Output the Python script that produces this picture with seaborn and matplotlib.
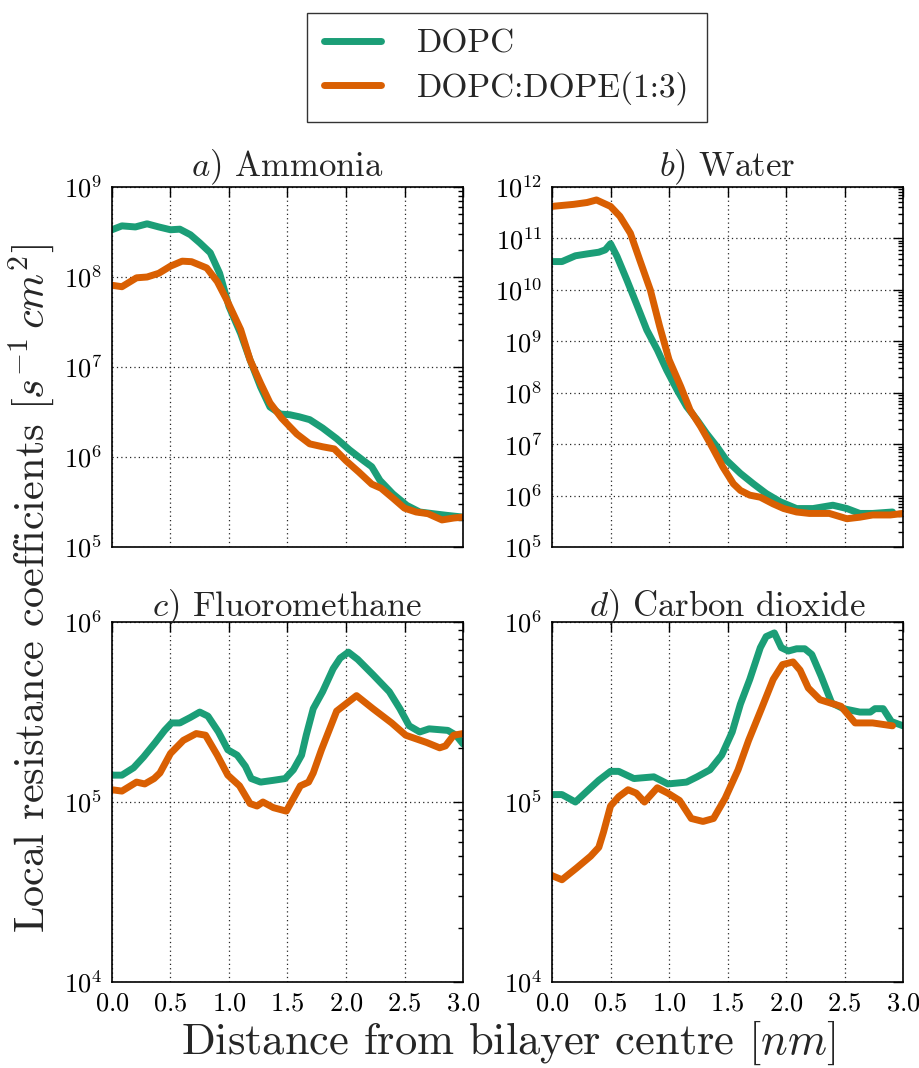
import numpy as np
import pandas as pd
import matplotlib
matplotlib.use("Agg")
import matplotlib.pyplot as plt
from matplotlib.ticker import LogLocator, NullFormatter
from matplotlib.lines import Line2D
import seaborn as sns

# ---------------- data: local resistance coefficients (s^-1 cm^2) ----------------
# a) Ammonia
ammonia_x_dopc = [0.0, 0.085, 0.2, 0.3, 0.4, 0.5, 0.58, 0.67, 0.75, 0.84, 0.92, 1.0, 1.1, 1.18,
                  1.27, 1.35, 1.44, 1.52, 1.6, 1.69, 1.8, 1.92, 2.03, 2.15, 2.22, 2.29, 2.4,
                  2.52, 2.63, 2.74, 2.86, 3.0]
ammonia_dopc = [3.35e8, 3.7e8, 3.6e8, 3.9e8, 3.6e8, 3.35e8, 3.4e8, 2.95e8, 2.4e8, 1.86e8, 1.1e8,
                4.7e7, 2.35e7, 1.2e7, 6.0e6, 3.6e6, 3.0e6, 2.95e6, 2.8e6, 2.6e6, 2.1e6, 1.6e6,
                1.2e6, 9.1e5, 7.8e5, 5.5e5, 3.9e5, 2.9e5, 2.45e5, 2.35e5, 2.25e5, 2.15e5]
ammonia_x_mix = [0.0, 0.085, 0.21, 0.3, 0.4, 0.5, 0.6, 0.68, 0.81, 0.9, 0.98, 1.1, 1.18, 1.27,
                 1.35, 1.45, 1.58, 1.69, 1.8, 1.9, 2.0, 2.11, 2.22, 2.3, 2.4, 2.5, 2.6, 2.7,
                 2.82, 2.92, 3.0]
ammonia_mix = [8.1e7, 7.8e7, 9.8e7, 1.0e8, 1.1e8, 1.32e8, 1.5e8, 1.48e8, 1.26e8, 8.9e7, 5.6e7,
               2.6e7, 1.2e7, 6.6e6, 4.0e6, 2.7e6, 1.8e6, 1.4e6, 1.3e6, 1.23e6, 9.1e5, 6.8e5,
               5.0e5, 4.5e5, 3.5e5, 2.7e5, 2.45e5, 2.35e5, 2.0e5, 2.1e5, 2.15e5]

# b) Water
water_x_dopc = [0.0, 0.085, 0.2, 0.3, 0.4, 0.455, 0.5, 0.555, 0.64, 0.73, 0.81, 0.9, 0.98, 1.07,
                1.15, 1.24, 1.32, 1.41, 1.49, 1.61, 1.72, 1.83, 1.95, 2.09, 2.23, 2.4, 2.52,
                2.63, 2.74, 2.91]
water_dopc = [3.55e10, 3.55e10, 4.6e10, 5.0e10, 5.4e10, 6.0e10, 7.9e10, 4.5e10, 1.55e10, 4.8e9,
              1.66e9, 6.8e8, 2.75e8, 1.12e8, 5.4e7, 2.95e7, 1.62e7, 8.9e6, 4.9e6, 2.7e6, 1.7e6,
              1.1e6, 7.6e5, 5.6e5, 5.6e5, 6.5e5, 5.6e5, 4.5e5, 4.5e5, 4.8e5]
water_x_mix = [0.0, 0.185, 0.3, 0.38, 0.5, 0.58, 0.67, 0.75, 0.84, 0.92, 1.0, 1.1, 1.18, 1.27,
               1.35, 1.46, 1.55, 1.61, 1.69, 1.78, 1.89, 1.98, 2.09, 2.2, 2.37, 2.52, 2.63,
               2.74, 2.89, 3.0]
water_mix = [4.2e11, 4.6e11, 5.0e11, 5.6e11, 4.2e11, 2.7e11, 1.26e11, 3.8e10, 1.0e10, 1.95e9,
             4.4e8, 1.32e8, 4.6e7, 2.2e7, 1.05e7, 3.6e6, 1.7e6, 1.26e6, 1.02e6, 9.3e5, 6.9e5,
             5.6e5, 4.8e5, 4.5e5, 4.5e5, 3.55e5, 3.8e5, 4.2e5, 4.2e5, 4.5e5]

# c) Fluoromethane
fluoro_x_dopc = [0.0, 0.085, 0.185, 0.27, 0.37, 0.45, 0.51, 0.58, 0.67, 0.75, 0.82, 0.91, 0.99,
                 1.07, 1.14, 1.19, 1.27, 1.38, 1.48, 1.55, 1.62, 1.66, 1.72, 1.8, 1.89, 1.95,
                 2.02, 2.1, 2.23, 2.37, 2.46, 2.54, 2.63, 2.71, 2.87, 2.94, 3.0]
fluoro_dopc = [1.41e5, 1.41e5, 1.55e5, 1.78e5, 2.14e5, 2.5e5, 2.75e5, 2.75e5, 2.95e5, 3.16e5,
               3.0e5, 2.45e5, 1.95e5, 1.82e5, 1.58e5, 1.35e5, 1.29e5, 1.32e5, 1.35e5, 1.51e5,
               1.82e5, 2.35e5, 3.3e5, 4.1e5, 5.5e5, 6.3e5, 6.8e5, 6.2e5, 5.1e5, 4.1e5, 3.3e5,
               2.65e5, 2.45e5, 2.55e5, 2.5e5, 2.35e5, 2.1e5]
fluoro_x_mix = [0.0, 0.085, 0.21, 0.28, 0.36, 0.41, 0.5, 0.61, 0.72, 0.8, 0.9, 0.99, 1.09, 1.18,
                1.24, 1.29, 1.38, 1.49, 1.61, 1.68, 1.72, 1.79, 1.92, 2.09, 2.23, 2.39, 2.51,
                2.69, 2.8, 2.85, 2.92, 3.0]
fluoro_mix = [1.17e5, 1.15e5, 1.29e5, 1.26e5, 1.35e5, 1.45e5, 1.86e5, 2.2e5, 2.4e5, 2.35e5,
              1.82e5, 1.41e5, 1.23e5, 9.8e4, 9.5e4, 1.0e5, 9.3e4, 8.9e4, 1.23e5, 1.29e5, 1.45e5,
              1.95e5, 3.2e5, 3.9e5, 3.3e5, 2.75e5, 2.35e5, 2.14e5, 2.0e5, 2.05e5, 2.35e5, 2.4e5]

# d) Carbon dioxide
co2_x_dopc = [0.0, 0.085, 0.2, 0.3, 0.4, 0.5, 0.57, 0.7, 0.87, 0.99, 1.15, 1.24, 1.35, 1.45,
              1.54, 1.61, 1.69, 1.78, 1.83, 1.9, 1.96, 2.02, 2.09, 2.16, 2.22, 2.3, 2.39, 2.49,
              2.63, 2.72, 2.76, 2.83, 2.9, 3.0]
co2_dopc = [1.1e5, 1.1e5, 1.0e5, 1.15e5, 1.32e5, 1.48e5, 1.48e5, 1.35e5, 1.38e5, 1.26e5, 1.29e5,
            1.38e5, 1.51e5, 1.82e5, 2.45e5, 3.5e5, 4.8e5, 7.2e5, 8.3e5, 8.7e5, 7.2e5, 6.9e5,
            7.1e5, 7.1e5, 6.6e5, 5.0e5, 3.55e5, 3.3e5, 3.16e5, 3.16e5, 3.3e5, 3.3e5, 2.8e5, 2.65e5]
co2_x_mix = [0.0, 0.085, 0.21, 0.33, 0.4, 0.44, 0.5, 0.57, 0.65, 0.72, 0.79, 0.9, 0.99, 1.09,
             1.19, 1.29, 1.38, 1.48, 1.59, 1.68, 1.79, 1.89, 1.97, 2.06, 2.12, 2.19, 2.29, 2.47,
             2.59, 2.74, 2.91]
co2_mix = [3.9e4, 3.7e4, 4.3e4, 5.0e4, 5.6e4, 6.8e4, 9.5e4, 1.07e5, 1.17e5, 1.12e5, 1.0e5, 1.2e5,
           1.12e5, 1.02e5, 8.1e4, 7.8e4, 8.1e4, 1.05e5, 1.51e5, 2.2e5, 3.3e5, 4.8e5, 5.8e5, 6.0e5,
           5.4e5, 4.3e5, 3.7e5, 3.4e5, 2.75e5, 2.75e5, 2.65e5]

membranes = ["DOPC", "DOPC:DOPE(1:3)"]
panel_titles = [r"$a)$ Ammonia", r"$b)$ Water", r"$c)$ Fluoromethane", r"$d)$ Carbon dioxide"]
panel_ylims = [(1e5, 1e9), (1e5, 1e12), (1e4, 1e6), (1e4, 1e6)]
x_ticks = [0.0, 0.5, 1.0, 1.5, 2.0, 2.5, 3.0]

panels = [
    (ammonia_x_dopc, ammonia_dopc, ammonia_x_mix, ammonia_mix),
    (water_x_dopc, water_dopc, water_x_mix, water_mix),
    (fluoro_x_dopc, fluoro_dopc, fluoro_x_mix, fluoro_mix),
    (co2_x_dopc, co2_dopc, co2_x_mix, co2_mix),
]

# ---------------- style ----------------
sns.set_style("white")
plt.rcParams["font.family"] = ["cmr10", "DejaVu Serif"]
plt.rcParams["mathtext.fontset"] = "cm"
plt.rcParams["axes.formatter.use_mathtext"] = True
plt.rcParams["axes.unicode_minus"] = False

dark2 = sns.color_palette("Dark2")
palette = {membranes[0]: dark2[0], membranes[1]: dark2[1]}

fig = plt.figure(figsize=(9.2, 10.68), dpi=100)
left_cols = [0.1217, 0.600]
width = 0.3816
bottoms = [0.4878, 0.0805]
height = 0.3371

axes = []
for i, (xd, yd, xm, ym) in enumerate(panels):
    r, c = divmod(i, 2)
    ax = fig.add_axes([left_cols[c], bottoms[r], width, height])
    axes.append(ax)
    df = pd.concat([
        pd.DataFrame({"x": xd, "R": yd, "membrane": membranes[0]}),
        pd.DataFrame({"x": xm, "R": ym, "membrane": membranes[1]}),
    ], ignore_index=True)
    sns.lineplot(data=df, x="x", y="R", hue="membrane", palette=palette,
                 linewidth=5, ax=ax, legend=False, estimator=None, sort=False)
    ax.set_yscale("log")
    ax.set_xlim(0, 3)
    ax.set_ylim(*panel_ylims[i])
    ax.set_xticks(x_ticks)
    ax.yaxis.set_major_locator(LogLocator(base=10, numticks=30))
    ax.yaxis.set_minor_locator(LogLocator(base=10, subs=np.arange(2, 10), numticks=300))
    ax.yaxis.set_minor_formatter(NullFormatter())
    ax.set_xlabel("")
    ax.set_ylabel("")
    ax.grid(True, which="major", linestyle=(0, (1, 2.5)), color="0.15", linewidth=0.9)
    ax.tick_params(which="both", direction="in", top=True, right=True,
                   labelsize=19, width=1, colors="k")
    ax.tick_params(which="major", length=7, pad=7)
    ax.tick_params(which="minor", length=3.5)
    for sp in ax.spines.values():
        sp.set_color("k")
        sp.set_linewidth(1.2)
    if r == 0:
        ax.tick_params(labelbottom=False)
    ax.set_title(panel_titles[i], fontsize=25, pad=4)

fig.text(0.034, 0.449, r"Local resistance coefficients $[s^{-1}\,cm^2]$",
         rotation=90, ha="center", va="center", fontsize=30.5)
fig.text(0.552, 0.013, r"Distance from bilayer centre $[nm]$",
         ha="center", va="baseline", fontsize=32)

handles = [Line2D([], [], color=palette[m], linewidth=5) for m in membranes]
leg = fig.legend(handles, membranes, loc="upper center", bbox_to_anchor=(0.551, 0.988),
                 borderaxespad=0, fontsize=24, frameon=True, fancybox=False, edgecolor="k",
                 handlelength=1.7, handletextpad=1.1, borderpad=0.5, labelspacing=0.38)
leg.get_frame().set_linewidth(1.0)

fig.savefig("out.png", dpi=100)
